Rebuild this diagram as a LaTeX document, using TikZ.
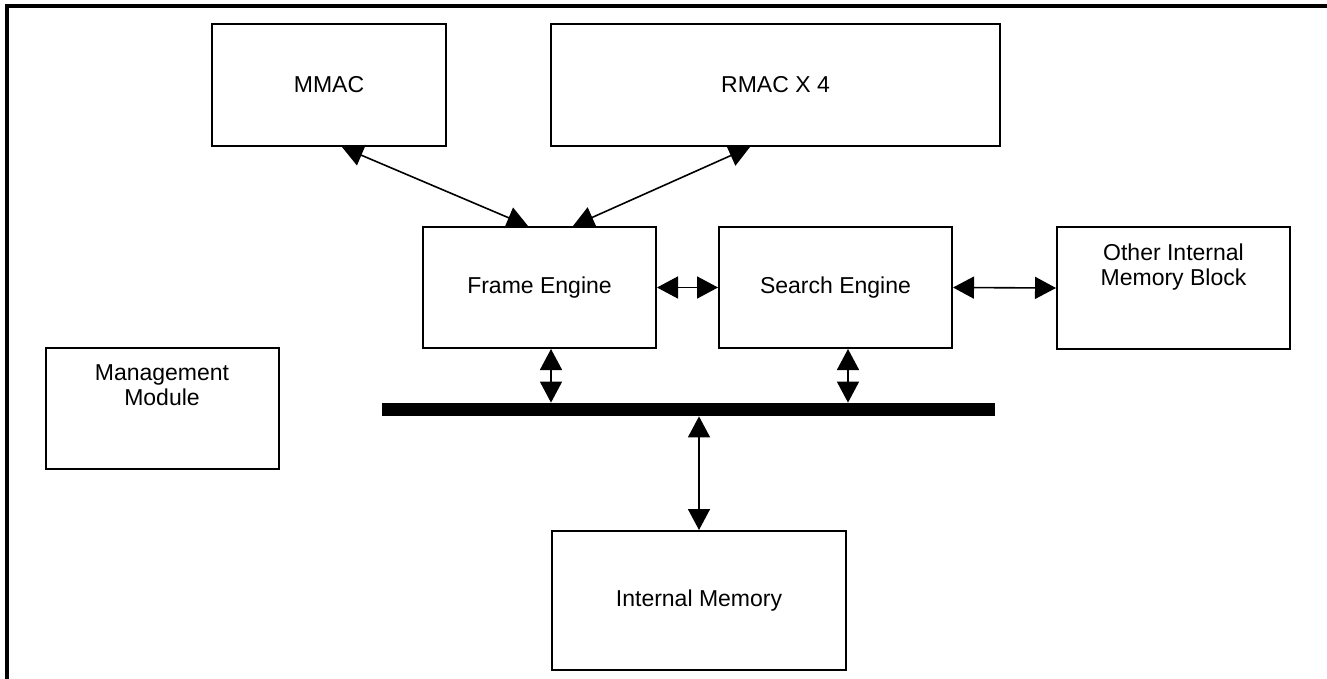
\documentclass[tikz,border=0pt]{standalone}
\usepackage{fontspec}
\setmainfont{Liberation Sans}
\usetikzlibrary{arrows.meta}

\tikzset{
	block/.style={draw, line width=1pt, minimum width=116.5pt, minimum height=60.5pt, inner sep=0pt, font=\fontsize{11.5}{12.5}\selectfont, align=center},
	toptext/.style={anchor=north, align=center, font=\fontsize{11.5}{12.5}\selectfont, yshift=-5.5pt},
	link/.style={line width=0.8pt, {Triangle[length=10.5pt,width=11pt]}-{Triangle[length=10.5pt,width=11pt]}}
}

\begin{document}
\begin{tikzpicture}[x=0.5pt, y=-0.5pt]
			\useasboundingbox (0,0) rectangle (1327,679);
			\draw[line width=1.75pt] (7,680) -- (7,6) -- (1327,6);

			\node[block, minimum width=117pt, minimum height=61pt] (mmac) at (329,85) {MMAC};
			\node[block, minimum width=224.5pt, minimum height=61pt] (rmac) at (775.5,85) {RMAC X 4};
			\node[block] (fe) at (539.5,287.5) {Frame Engine};
			\node[block] (se) at (835.5,287.5) {Search Engine};
			\node[block, minimum height=61pt, label={[toptext]north:Other Internal\\Memory Block}] (other) at (1173.5,288) {};
			\node[block, label={[toptext]north:Management\\Module}] (mgmt) at (162,408.5) {};
			\node[block, minimum width=147pt, minimum height=69.5pt] (imem) at (699,600.5) {Internal Memory};
			\node[fill, inner sep=0pt, minimum width=306.5pt, minimum height=6.5pt] (bus) at (688.5,409.5) {};

			\draw[link] ([xshift=6.5pt]mmac.south) -- ([xshift=-5.75pt]fe.north);
			\draw[link] ([xshift=-12.75pt]rmac.south) -- ([xshift=16.75pt]fe.north);
			\draw[link] (fe.east) -- (se.west);
			\draw[link] (se.east) -- (other.west);

			\draw[link] ([xshift=5.75pt]fe.south) -- ([xshift=5.75pt]fe.south |- bus.north);
			\draw[link] ([xshift=6.25pt]se.south) -- ([xshift=6.25pt]se.south |- bus.north);
			\draw[link] (imem.north |- bus.south) -- (imem.north);
		\end{tikzpicture}
\end{document}
